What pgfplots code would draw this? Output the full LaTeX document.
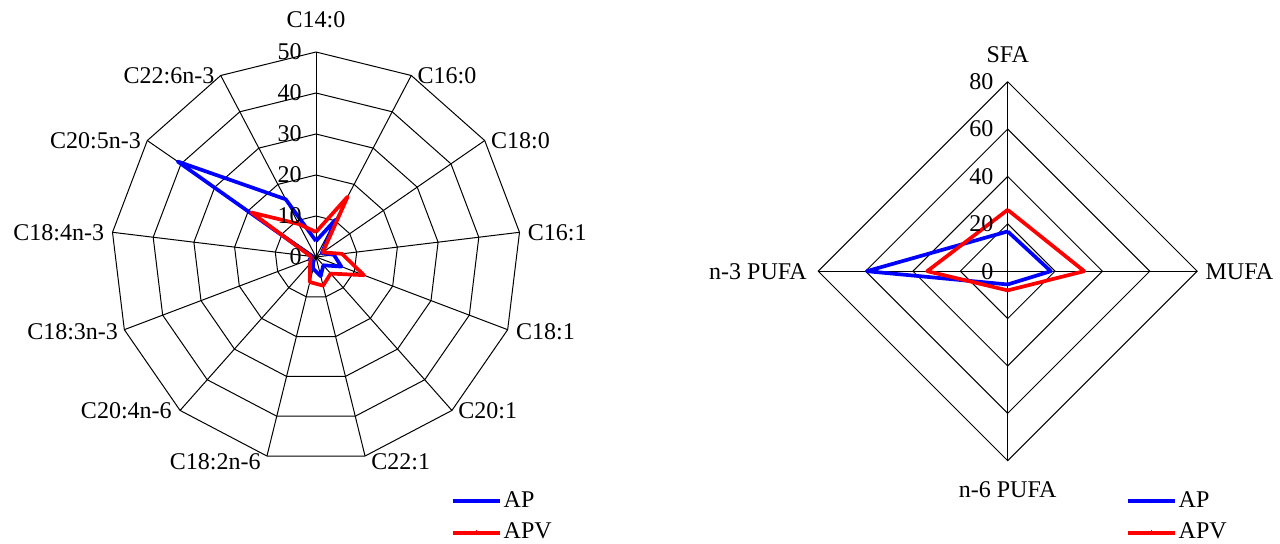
\documentclass[border=0pt]{standalone}
\usepackage{fontspec}
\setmainfont{Liberation Serif}
\usepackage{pgfplots}
\usepackage{pgfplotstable}
\pgfplotsset{compat=1.18}

% angle (deg, math convention), values in %
\pgfplotstableread{
angle     AP    APV
90        3.9   6.1
62.3077   10.3  16.6
34.6154   1.7   2.0
6.9231    4.4   6.4
-20.7692  6.6   12.5
-48.4615  2.7   5.4
-76.1538  4.8   7.2
-103.8462 2.9   6.3
-131.5385 1.1   2.2
-159.2308 1.7   1.4
-186.9231 1.0   1.3
-214.6154 41.0  19.1
-242.3077 15.9  9.1
-270      3.9   6.1
}\fattyacids

\pgfplotstableread{
angle  AP    APV
90     16.8  25.9
0      18.2  32.3
-90    5.6   8.1
-180   59.5  34.0
-270   16.8  25.9
}\groups

\pgfplotsset{
  radar/.style={
    hide axis, clip=false, anchor=center, data cs=polar,
    legend cell align=left,
    legend image code/.code={\draw[##1] (0bp,0bp) -- (23.5bp,0bp);
      \draw[##1, line width=0.6bp] (11.75bp,-1.2bp) -- (11.75bp,1.2bp);},
    legend style={draw=none, fill=none, inner sep=0pt, anchor=north west,
      row sep=4.6bp, nodes={inner sep=0.8bp},
      /tikz/every even column/.append style={column sep=2.4bp}},
  },
  gridline/.style={black, line width=0.5bp, forget plot},
  serie/.style={line width=1.85bp, line join=round},
}

\begin{document}
\fontsize{12bp}{14bp}\selectfont
\begin{tikzpicture}
\useasboundingbox (0,0) rectangle (640bp,272bp);

% ---------------- left radar ----------------
\begin{axis}[radar, at={(158bp,143.5bp)}, x=2.05bp, y=2.05bp,
  xmin=-55, xmax=55, ymin=-55, ymax=55,
  legend style={at={(0.7993,-0.0150)}}]
\pgfplotsinvokeforeach{10,20,30,40,50}{
  \addplot[gridline] coordinates {(90,#1) (62.3077,#1) (34.6154,#1) (6.9231,#1)
    (-20.7692,#1) (-48.4615,#1) (-76.1538,#1) (-103.8462,#1) (-131.5385,#1)
    (-159.2308,#1) (-186.9231,#1) (-214.6154,#1) (-242.3077,#1) (-270,#1)};
}
\pgfplotsinvokeforeach{90,62.3077,34.6154,6.9231,-20.7692,-48.4615,-76.1538,
  -103.8462,-131.5385,-159.2308,-186.9231,-214.6154,-242.3077}{
  \addplot[gridline] coordinates {(#1,0) (#1,50)};
}
\addplot[serie, blue] table[x=angle, y=AP] {\fattyacids};
\addplot[serie, red] table[x=angle, y=APV] {\fattyacids};
\legend{AP, APV}

\pgfplotsinvokeforeach{0,10,20,30,40,50}{
  \node[anchor=east, inner sep=1bp, xshift=-6bp] at (axis cs:0,#1) {#1};
}
\node[anchor=base, inner sep=1bp, yshift=12bp] at (axis cs:0,50) {C14:0};
\node[anchor=west, inner sep=1bp, xshift=2bp] at (axis cs:23.236,44.273) {C16:0};
\node[anchor=west, inner sep=1bp, xshift=2bp] at (axis cs:41.149,28.403) {C18:0};
\node[anchor=west, inner sep=1bp, xshift=3bp] at (axis cs:49.635,6.027) {C16:1};
\node[anchor=west, inner sep=1bp, xshift=3bp, yshift=-1bp] at (axis cs:46.751,-17.730) {C18:1};
\node[anchor=west, inner sep=1bp, xshift=2bp] at (axis cs:33.156,-37.426) {C20:1};
\node[anchor=west, inner sep=1bp, xshift=2bp, yshift=-3bp] at (axis cs:11.966,-48.547) {C22:1};
\node[anchor=east, inner sep=1bp, xshift=-2bp, yshift=-3bp] at (axis cs:-11.966,-48.547) {C18:2n-6};
\node[anchor=east, inner sep=1bp, xshift=-3bp] at (axis cs:-33.156,-37.426) {C20:4n-6};
\node[anchor=east, inner sep=1bp, xshift=-2bp, yshift=-1bp] at (axis cs:-46.751,-17.730) {C18:3n-3};
\node[anchor=east, inner sep=1bp, xshift=-3bp] at (axis cs:-49.635,6.027) {C18:4n-3};
\node[anchor=east, inner sep=1bp, xshift=-2bp] at (axis cs:-41.149,28.403) {C20:5n-3};
\node[anchor=east, inner sep=1bp, xshift=-2bp] at (axis cs:-23.236,44.273) {C22:6n-3};
\end{axis}

% ---------------- right radar ----------------
\begin{axis}[radar, at={(503.85bp,136.4bp)}, x=1.1844bp, y=1.1844bp,
  xmin=-90, xmax=90, ymin=-90, ymax=90,
  legend style={at={(0.7774,-0.0114)}}]
\pgfplotsinvokeforeach{20,40,60,80}{
  \addplot[gridline] coordinates {(90,#1) (0,#1) (-90,#1) (-180,#1) (-270,#1)};
}
\pgfplotsinvokeforeach{90,0,-90,-180}{
  \addplot[gridline] coordinates {(#1,0) (#1,80)};
}
\addplot[serie, blue] table[x=angle, y=AP] {\groups};
\addplot[serie, red] table[x=angle, y=APV] {\groups};
\legend{AP, APV}

\pgfplotsinvokeforeach{0,20,40,60,80}{
  \node[anchor=east, inner sep=1bp, xshift=-6bp] at (axis cs:0,#1) {#1};
}
\node[anchor=base, inner sep=1bp, yshift=9.4bp] at (axis cs:0,80) {SFA};
\node[anchor=west, inner sep=1bp, xshift=3bp] at (axis cs:80,0) {MUFA};
\node[anchor=base, inner sep=1bp, yshift=-18.6bp] at (axis cs:0,-80) {n-6 PUFA};
\node[anchor=east, inner sep=1bp, xshift=-4.5bp] at (axis cs:-80,0) {n-3 PUFA};
\end{axis}
\end{tikzpicture}
\end{document}
